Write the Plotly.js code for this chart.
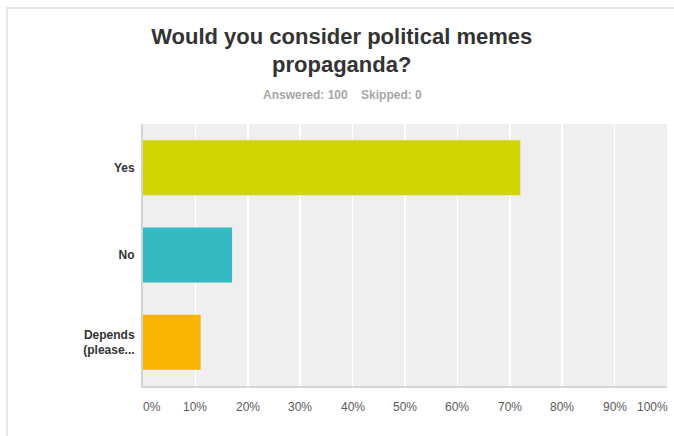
<!DOCTYPE html>
<html>
<head>
<meta charset="utf-8">
<script src="https://cdn.plot.ly/plotly-3.0.1.min.js"></script>
<style>
  html, body { margin: 0; padding: 0; background: #ffffff; }
  #frame { position: absolute; left: 6px; top: 7px; width: 680px; height: 440px;
           border-top: 2px solid #e6e6e6; border-left: 2px solid #e6e6e6; }
  #chart { position: absolute; left: 0; top: 0; width: 674px; height: 436px; }
</style>
</head>
<body>
<div id="frame"></div>
<div id="chart"></div>
<script>
// Data
const categories = ["Yes", "No", "Depends<br>(please..."];
const percentValues = [72, 17, 11];
const barColors = ["#d0d400", "#34b9c1", "#f7b400"];
const tickValues = [0, 10, 20, 30, 40, 50, 60, 70, 80, 90, 100];
const tickLabels = ["0%", "10%", "20%", "30%", "40%", "50%", "60%", "70%", "80%", "90%", "100%"];

const FONT = "Liberation Sans, Arial, Helvetica, sans-serif";

const trace = {
  type: "bar",
  orientation: "h",
  y: categories,
  x: percentValues,
  width: 0.63,
  marker: { color: barColors, line: { width: 0 } },
  hoverinfo: "none"
};

// Tick label annotations (first and last nudged inward like the reference)
const tickAnnotations = tickValues.map((v, i) => {
  let shift = 0;
  if (i === 0) shift = 9;
  if (i === tickValues.length - 1) shift = -15;
  return {
    x: v, xref: "x", y: -0.08, yref: "paper",
    text: tickLabels[i], showarrow: false,
    xanchor: "center", yanchor: "middle", xshift: shift,
    font: { family: FONT, size: 12, color: "#5a5a5a" }
  };
});

const layout = {
  width: 674,
  height: 436,
  margin: { l: 143, r: 7, t: 124, b: 50, pad: 0 },
  paper_bgcolor: "rgba(0,0,0,0)",
  plot_bgcolor: "#efefef",
  showlegend: false,
  bargap: 0.37,
  title: {
    text: "<b>Would you consider political memes<br>propaganda?</b>",
    font: { family: FONT, size: 22, color: "#333333" },
    x: 0.507, xanchor: "center", xref: "container",
    y: 0.90, yanchor: "top", yref: "container"
  },
  xaxis: {
    range: [0, 100],
    tickvals: tickValues,
    showticklabels: false,
    showgrid: true,
    gridcolor: "#ffffff",
    gridwidth: 1.5,
    zeroline: false,
    showline: true,
    linecolor: "#d4d4d4",
    linewidth: 2,
    fixedrange: true
  },
  yaxis: {
    autorange: "reversed",
    showgrid: false,
    zeroline: false,
    showline: true,
    linecolor: "#d4d4d4",
    linewidth: 2,
    ticks: "outside",
    ticklen: 4,
    tickcolor: "rgba(0,0,0,0)",
    tickfont: { family: FONT, size: 12, color: "#333333", weight: "bold" },
    fixedrange: true
  },
  annotations: [
    {
      x: 0.38, xref: "paper", y: 1.11, yref: "paper",
      text: "<b>Answered: 100    Skipped: 0</b>",
      showarrow: false, xanchor: "center", yanchor: "middle",
      font: { family: FONT, size: 12, color: "#a6a6a6" }
    }
  ].concat(tickAnnotations)
};

Plotly.newPlot("chart", [trace], layout, { displayModeBar: false, staticPlot: true });
</script>
</body>
</html>
